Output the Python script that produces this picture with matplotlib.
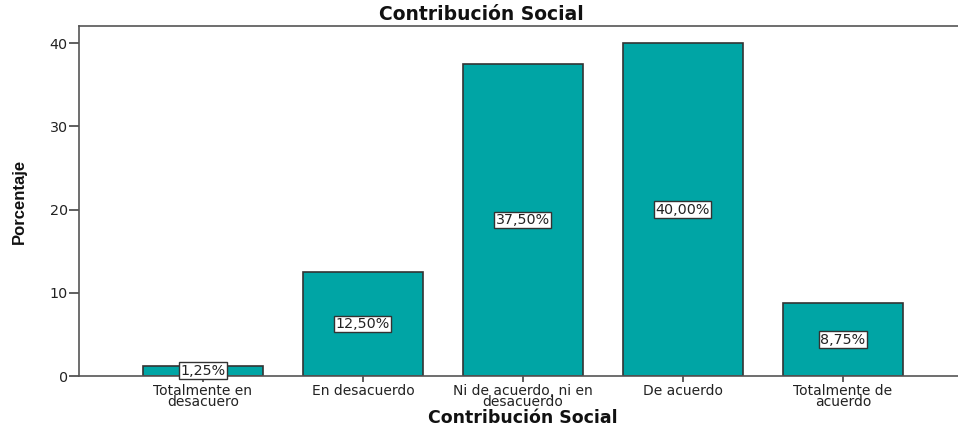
import matplotlib
matplotlib.use("Agg")
import matplotlib.pyplot as plt

categories = ["Totalmente en\ndesacuero", "En desacuerdo", "Ni de acuerdo, ni en\ndesacuerdo",
              "De acuerdo", "Totalmente de\nacuerdo"]
values = [1.25, 12.50, 37.50, 40.00, 8.75]
labels = ["1,25%", "12,50%", "37,50%", "40,00%", "8,75%"]
yticks = [0, 10, 20, 30, 40]

plt.rcParams['font.family'] = ['DejaVu Sans']

fig = plt.figure(figsize=(9.58, 4.28), dpi=100)
ax = fig.add_axes([79/958, 1 - 376/428, 1 - 79/958, (376 - 26)/428])

x = list(range(len(categories)))
ax.bar(x, values, width=0.75, color="#00A5A5", edgecolor="#333333", linewidth=1.2, zorder=2)
for xi, v, lab in zip(x, values, labels):
    ax.text(xi, v / 2, lab, ha="center", va="center", fontsize=10.3, color="#222222", zorder=3,
            bbox=dict(boxstyle="square,pad=0.1", fc="white", ec="#333333", lw=1))

ax.set_xlim(-0.775, 4.72)
ax.set_ylim(0, 42.05)
ax.set_yticks(yticks)
ax.set_xticks(x)
ax.set_xticklabels(categories, fontsize=10, linespacing=0.78, color="#222222")
ax.tick_params(axis="y", labelsize=10.3, labelcolor="#222222", length=7, width=1.2, color="#444444", pad=1)
ax.tick_params(axis="x", length=4, width=1.2, color="#444444", pad=1.5)
for s in ["left", "bottom", "top"]:
    ax.spines[s].set_color("#555555")
    ax.spines[s].set_linewidth(1.2)
ax.spines["right"].set_visible(False)

fig.text(481/958, 1 - 14/428, "Contribución Social", ha="center", va="center",
         fontsize=13.5, fontweight="bold", color="#111111")
fig.text(523/958, 1 - 418/428, "Contribución Social", ha="center", va="center",
         fontsize=12.5, fontweight="bold", color="#111111")
fig.text(19/958, 1 - 201/428, "Porcentaje", rotation=90, ha="center", va="center",
         fontsize=12, fontweight="bold", color="#111111",
         family=["Liberation Sans Narrow", "Liberation Sans", "DejaVu Sans"])

fig.savefig("out.png", dpi=100)
